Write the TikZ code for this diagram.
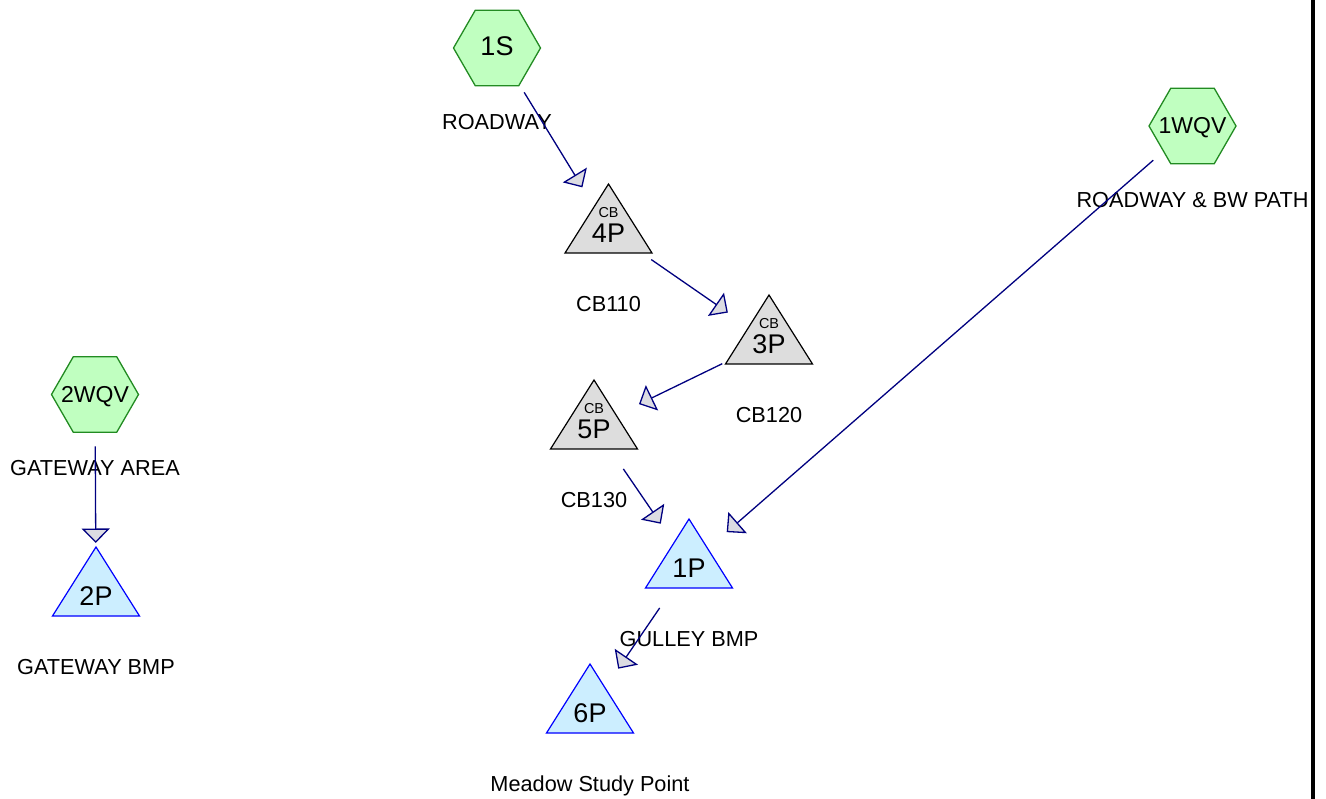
\documentclass[tikz,border=0pt]{standalone}
\usepackage{fontspec}
\setmainfont{Liberation Sans}
\usetikzlibrary{arrows.meta}

\definecolor{hexfill}{RGB}{192,255,192}
\definecolor{hexdraw}{RGB}{34,139,34}
\definecolor{cbfill}{RGB}{221,221,221}
\definecolor{pondfill}{RGB}{204,238,255}
\definecolor{ponddraw}{RGB}{0,0,255}
\definecolor{flowline}{RGB}{0,0,128}
\definecolor{tipfill}{RGB}{220,220,226}

\tikzset{
  hexshape/.style={draw=hexdraw, fill=hexfill, line width=1.3pt, line join=miter},
  cbshape/.style={draw=black, fill=cbfill, line width=1.2pt, line join=miter},
  pondshape/.style={draw=ponddraw, fill=pondfill, line width=1.2pt, line join=miter},
  caption/.style={anchor=base, inner sep=0pt, font=\fontsize{21.7}{25}\selectfont},
  bigid/.style={anchor=base, inner sep=0pt, font=\fontsize{27}{31}\selectfont},
  hexid/.style={anchor=base, inner sep=0pt, font=\fontsize{23}{27}\selectfont},
  cbtag/.style={anchor=base, inner sep=0pt, font=\fontsize{14.4}{17}\selectfont},
  flow/.style={draw=flowline, line width=1.3pt,
    -{Triangle[length=14.5pt, width=28pt, fill=tipfill, line join=miter]},
    shorten <=52pt, shorten >=50pt},
}

% hexagon: name, centre, id text, caption
\newcommand\hexsub[4]{%
  \coordinate (#1) at #2;
  \draw[hexshape] ([shift={(-43.5,0)}]#1) -- ([shift={(-21.75,-37.7)}]#1)
    -- ([shift={(21.75,-37.7)}]#1) -- ([shift={(43.5,0)}]#1)
    -- ([shift={(21.75,37.7)}]#1) -- ([shift={(-21.75,37.7)}]#1) -- cycle;
  \node[hexid] (#1-id) at ([yshift=-8]#1) {#3};
  \node[caption] (#1-cap) at ([yshift=-81.5]#1) {#4};
}
% triangle: style, name, centre, id text, caption, optional tag
\newcommand\trisub[6]{%
  \coordinate (#2) at #3;
  \draw[#1] ([shift={(0,-46)}]#2) -- ([shift={(43.5,23)}]#2)
    -- ([shift={(-43.5,23)}]#2) -- cycle;
  \node[bigid] (#2-id) at ([yshift=-12.6]#2) {#4};
  \node[caption] (#2-cap) at ([yshift=-81.5]#2) {#5};
  \ifx\relax#6\relax\else
    \node[cbtag] (#2-tag) at ([yshift=12.8]#2) {#6};
  \fi
}

\begin{document}
\begin{tikzpicture}[x=1pt, y=-1pt]
  \useasboundingbox (0,0) rectangle (1326,799);
  \fill[white] (0,0) rectangle (1326,799);

  % subcatchments
  \hexsub{n1S}{(497,48)}{\fontsize{27}{31}\selectfont 1S}{ROADWAY}
  \hexsub{n1WQV}{(1192.5,126)}{1WQV}{ROADWAY \& BW PATH}
  \hexsub{n2WQV}{(95,394.5)}{2WQV}{GATEWAY AREA}

  % catch basins
  \trisub{cbshape}{n4P}{(608.5,230)}{4P}{CB110}{CB}
  \trisub{cbshape}{n3P}{(769,341)}{3P}{CB120}{CB}
  \trisub{cbshape}{n5P}{(594,426)}{5P}{CB130}{CB}

  % ponds
  \trisub{pondshape}{n1P}{(689,565)}{1P}{GULLEY BMP}{}
  \trisub{pondshape}{n6P}{(590,710)}{6P}{Meadow Study Point}{}
  \trisub{pondshape}{n2P}{(96,593)}{2P}{GATEWAY BMP}{}

  % routing
  \draw[flow] (n1S) -- (n4P);
  \draw[flow] (n4P) -- (n3P);
  \draw[flow] (n3P) -- (n5P);
  \draw[flow] (n5P) -- (n1P);
  \draw[flow] (n1WQV) -- (n1P);
  \draw[flow] (n1P) -- (n6P);
  \draw[flow] (n2WQV) -- (n2P);

  % page edge
  \coordinate (edgetop) at (1313.3,0);
  \coordinate (edgebot) at (1313.3,799);
  \draw[line width=4pt] (edgetop) -- (edgebot);
\end{tikzpicture}
\end{document}
